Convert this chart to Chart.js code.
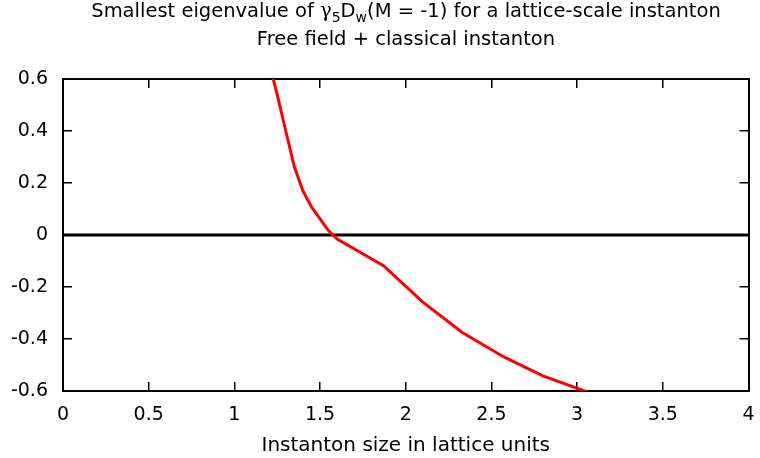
<!DOCTYPE html>
<html>
<head>
<meta charset="utf-8">
<script src="https://cdn.jsdelivr.net/npm/chart.js@4/dist/chart.umd.min.js"></script>
<style>
  html, body { margin: 0; padding: 0; background: #fff; }
  #wrap { position: relative; width: 760px; height: 458px; }
  .title {
    position: absolute; left: 63px; width: 686px; text-align: center;
    font-family: 'DejaVu Sans', sans-serif; font-size: 19.5px; line-height: 19px; color: #000;
    white-space: nowrap;
  }
  .title sub { font-size: 14px; vertical-align: -5px; line-height: 0; }
  .gamma { font-family: 'DejaVu Serif', serif; }
</style>
</head>
<body>
<div id="wrap">
  <div class="title" style="top:1px">Smallest eigenvalue of <span class="gamma">γ</span><sub>5</sub>D<sub>w</sub>(M = -1) for a lattice-scale instanton</div>
  <div class="title" style="top:29px">Free field + classical instanton</div>
  <canvas id="chart" width="760" height="458"></canvas>
</div>
<script>
// instanton size (lattice units) and lowest eigenvalue
const sizes       = [1.2,  1.25, 1.3,   1.35,  1.4,  1.45,  1.5,  1.55,  1.6,    1.87,   2.1,    2.33,   2.57,   2.8,    3.07];
const eigenvalues = [0.67, 0.54, 0.4,   0.262, 0.17, 0.108, 0.062, 0.016, -0.016, -0.118, -0.258, -0.375, -0.468, -0.542, -0.606];

// the y = 0 reference line
const zeroX = [0, 4];
const zeroY = [0, 0];

const xRange = [0, 4];
const yRange = [-0.6, 0.6];

const FONT = "'DejaVu Sans', sans-serif";
const TICK = -9;

function toPoints(xs, ys) {
  return xs.map((x, i) => ({ x, y: ys[i] }));
}

const fmt = v => String(+(+v).toFixed(1));

const frame = {
  color: '#000',
  drawOnChartArea: false,
  drawTicks: true,
  tickLength: TICK,
  lineWidth: 1.5
};

new Chart(document.getElementById('chart'), {
  type: 'line',
  data: {
    datasets: [
      {
        label: 'eigenvalue',
        data: toPoints(sizes, eigenvalues),
        borderColor: '#ff0000',
        borderWidth: 3,
        pointRadius: 0,
        tension: 0,
        order: 0
      },
      {
        label: 'zero',
        data: toPoints(zeroX, zeroY),
        borderColor: '#000',
        borderWidth: 3,
        pointRadius: 0,
        tension: 0,
        order: 1
      }
    ]
  },
  options: {
    responsive: false,
    animation: false,
    layout: { padding: { top: 79, right: 11.5, bottom: 0, left: 0 } },
    plugins: { legend: { display: false }, tooltip: { enabled: false } },
    scales: {
      x: {
        type: 'linear', position: 'bottom',
        min: xRange[0], max: xRange[1],
        ticks: { stepSize: 0.5, padding: 22, color: '#000', font: { family: FONT, size: 19 }, callback: fmt },
        grid: frame,
        border: { display: true, color: '#000', width: 2 },
        title: {
          display: true, text: 'Instanton size in lattice units', color: '#000',
          font: { family: FONT, size: 20 }, padding: { top: 0, bottom: 0 }
        },
        afterFit: s => { s.height = 67; s.paddingLeft = 0; s.paddingRight = 0; }
      },
      y: {
        type: 'linear', position: 'left',
        min: yRange[0], max: yRange[1],
        ticks: { stepSize: 0.2, padding: 24, color: '#000', font: { family: FONT, size: 19 }, callback: fmt },
        grid: frame,
        border: { display: true, color: '#000', width: 2 },
        afterFit: s => { s.width = 63; s.paddingTop = 0; s.paddingBottom = 0; }
      },
      x2: {
        type: 'linear', position: 'top',
        min: xRange[0], max: xRange[1],
        ticks: { stepSize: 0.5, display: false },
        grid: frame,
        border: { display: true, color: '#000', width: 2 },
        afterFit: s => { s.height = 0; s.paddingLeft = 0; s.paddingRight = 0; }
      },
      y2: {
        type: 'linear', position: 'right',
        min: yRange[0], max: yRange[1],
        ticks: { stepSize: 0.2, display: false },
        grid: frame,
        border: { display: true, color: '#000', width: 2 },
        afterFit: s => { s.width = 0; }
      }
    }
  }
});
</script>
</body>
</html>
